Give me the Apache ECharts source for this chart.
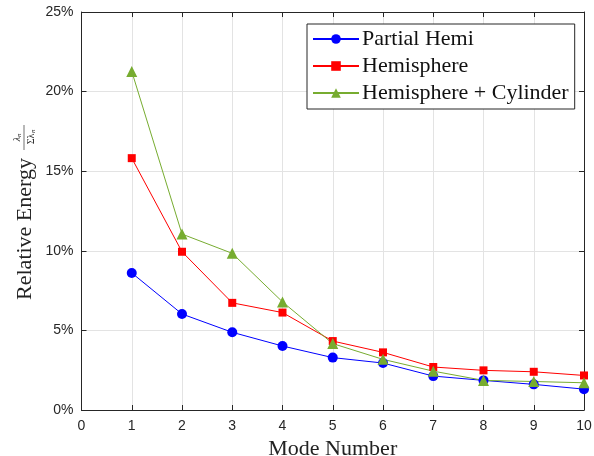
<!DOCTYPE html>
<html>
<head>
<meta charset="utf-8">
<script src="https://cdn.jsdelivr.net/npm/echarts@6/dist/echarts.min.js"></script>
<style>
html,body{margin:0;padding:0;background:#fff;}
#chart{width:594px;height:456px;}
</style>
</head>
<body>
<div id="chart"></div>
<script>
var modes = [1, 2, 3, 4, 5, 6, 7, 8, 9, 10];
var partialHemi = [8.61, 6.03, 4.88, 4.02, 3.29, 2.95, 2.13, 1.86, 1.61, 1.31];
var hemisphere = [15.82, 9.94, 6.73, 6.12, 4.33, 3.62, 2.70, 2.49, 2.40, 2.17];
var hemiCylinder = [21.27, 11.05, 9.84, 6.79, 4.17, 3.18, 2.44, 1.86, 1.79, 1.71];
var seriesNames = ['Partial Hemi', 'Hemisphere', 'Hemisphere + Cylinder'];
var xLabel = 'Mode Number';
var yLabel = 'Relative Energy';

function pairs(ys) { return modes.map(function (m, i) { return [m, ys[i]]; }); }

var axisColor = '#262626';
var serif = '"Liberation Serif", "Times New Roman", serif';
var sans = '"Liberation Sans", Arial, Helvetica, sans-serif';

var chart = echarts.init(document.getElementById('chart'), null, {renderer: 'canvas'});
var option = {
  animation: false,
  backgroundColor: '#fff',
  grid: {left: 81.5, right: 10, top: 12, bottom: 46, containLabel: false, outerBoundsMode: 'none'},
  legend: {
    left: 307, top: 24,
    orient: 'vertical',
    backgroundColor: '#fff',
    borderColor: axisColor,
    borderWidth: 1,
    borderRadius: 0,
    padding: [4, 6, 5, 5],
    itemWidth: 46, itemHeight: 12, itemGap: 5,
    textStyle: {fontFamily: serif, fontSize: 22, color: '#111', lineHeight: 20, padding: [0,0,0,-2]},
    data: seriesNames
  },
  xAxis: [{
    type: 'value', min: 0, max: 10, interval: 1,
    axisLine: {show: true, onZero: false, lineStyle: {color: axisColor, width: 1}},
    axisTick: {show: true, inside: true, length: 5, lineStyle: {color: axisColor}},
    axisLabel: {color: axisColor, fontFamily: sans, fontSize: 14, margin: 9},
    splitLine: {show: true, lineStyle: {color: '#e3e3e3', width: 1}},
    name: xLabel, nameLocation: 'middle', nameGap: 26,
    nameTextStyle: {fontFamily: serif, fontSize: 22, color: '#222'}
  }, {
    type: 'value', min: 0, max: 10, interval: 1, position: 'top',
    axisLine: {show: true, onZero: false, lineStyle: {color: axisColor, width: 1}},
    axisTick: {show: true, inside: true, length: 5, lineStyle: {color: axisColor}},
    axisLabel: {show: false}, splitLine: {show: false}
  }],
  yAxis: [{
    type: 'value', min: 0, max: 25, interval: 5,
    axisLine: {show: true, onZero: false, lineStyle: {color: axisColor, width: 1}},
    axisTick: {show: true, inside: true, length: 5, lineStyle: {color: axisColor}},
    axisLabel: {color: axisColor, fontFamily: sans, fontSize: 14, margin: 8, formatter: '{value}%'},
    splitLine: {show: true, lineStyle: {color: '#e3e3e3', width: 1}}
  }, {
    type: 'value', min: 0, max: 25, interval: 5, position: 'right',
    axisLine: {show: true, onZero: false, lineStyle: {color: axisColor, width: 1}},
    axisTick: {show: true, inside: true, length: 5, lineStyle: {color: axisColor}},
    axisLabel: {show: false}, splitLine: {show: false}
  }],
  series: [{
    name: seriesNames[0], type: 'line', data: pairs(partialHemi),
    symbol: 'circle', symbolSize: 10,
    lineStyle: {color: '#0000ff', width: 1},
    itemStyle: {color: '#0000ff'}
  }, {
    name: seriesNames[1], type: 'line', data: pairs(hemisphere),
    symbol: 'rect', symbolSize: 8,
    lineStyle: {color: '#ff0000', width: 1},
    itemStyle: {color: '#ff0000'}
  }, {
    name: seriesNames[2], type: 'line', data: pairs(hemiCylinder),
    symbol: 'triangle', symbolSize: 11,
    lineStyle: {color: '#77ac30', width: 1},
    itemStyle: {color: '#77ac30'}
  }],
  graphic: [{
    type: 'group', x: 25, y: 207, rotation: Math.PI / 2,
    children: [{
      type: 'text', x: 49, y: 0,
      style: {text: yLabel, font: '22px ' + serif, fill: '#222', align: 'right', verticalAlign: 'middle'}
    }, {
      type: 'line', shape: {x1: 57, y1: -1, x2: 82, y2: -1},
      style: {stroke: '#333', lineWidth: 0.7}
    }, {
      type: 'text', x: 70, y: -8,
      style: {text: 'λ', font: 'italic 10px ' + serif, fill: '#222', align: 'right', verticalAlign: 'middle'}
    }, {
      type: 'text', x: 70, y: -6,
      style: {text: 'n', font: 'italic 7px ' + serif, fill: '#222', align: 'left', verticalAlign: 'middle'}
    }, {
      type: 'text', x: 68, y: 6,
      style: {text: 'Σλ', font: '10px ' + serif, fill: '#222', align: 'center', verticalAlign: 'middle'}
    }, {
      type: 'text', x: 74, y: 8,
      style: {text: 'n', font: 'italic 7px ' + serif, fill: '#222', align: 'left', verticalAlign: 'middle'}
    }]
  }]
};
chart.setOption(option);
</script>
</body>
</html>
